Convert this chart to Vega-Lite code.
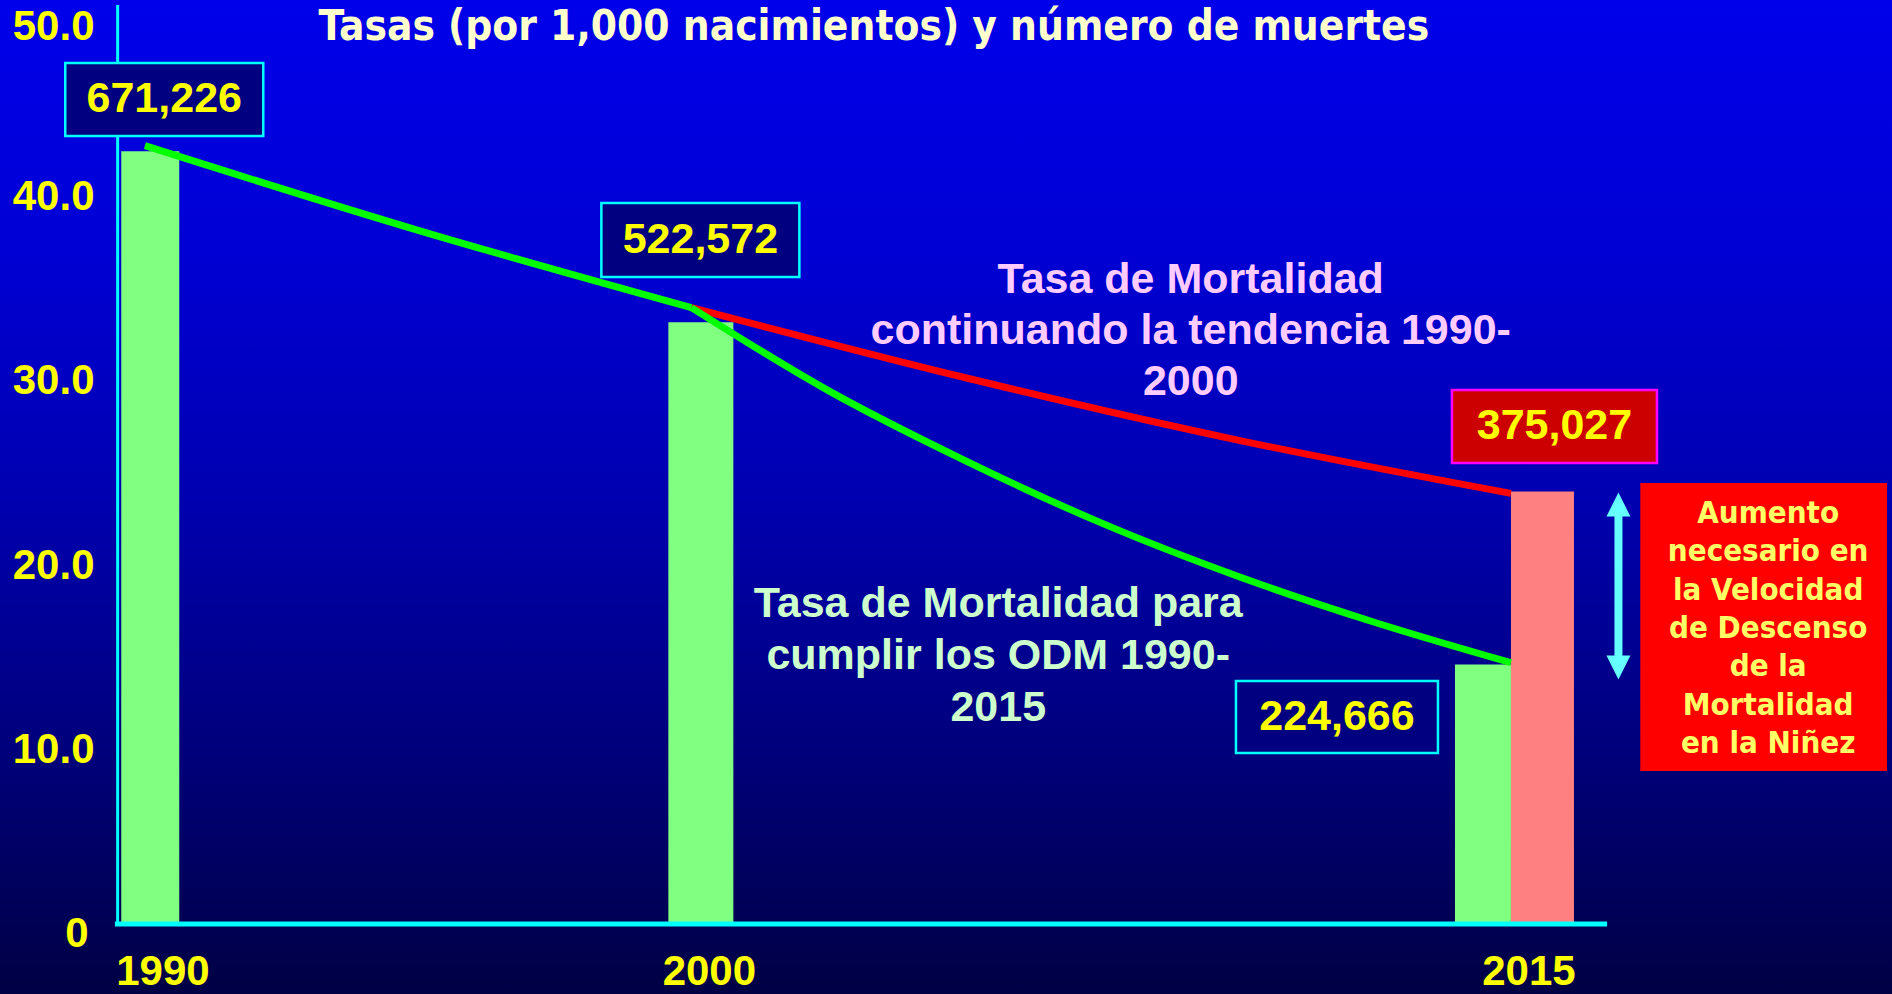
{
  "$schema": "https://vega.github.io/schema/vega-lite/v6.json",
  "width": 1892,
  "height": 994,
  "autosize": {"type": "none"},
  "padding": 0,
  "background": "#000040",
  "config": {"view": {"stroke": null}, "axis": {"grid": false, "domain": false, "ticks": false, "tickSize": 0}},
  "datasets": {
    "bars": [
      {"year": 1990, "rate": 42.0, "serie": "ODM", "deaths": 671226},
      {"year": 2000, "rate": 32.7, "serie": "ODM", "deaths": 522572},
      {"year": 2015, "rate": 14.1, "serie": "ODM", "deaths": 224666},
      {"year": 2015, "rate": 23.5, "serie": "Tendencia", "deaths": 375027}
    ],
    "lines": [
      {"year": 1990, "rate": 42.3, "serie": "ODM", "tramo": "1990-2000"},
      {"year": 1995, "rate": 37.7, "serie": "ODM", "tramo": "1990-2000"},
      {"year": 2000, "rate": 33.5, "serie": "ODM", "tramo": "1990-2000"},
      {"year": 2000, "rate": 33.5, "serie": "ODM", "tramo": "2000-2015"},
      {"year": 2002.5, "rate": 29.0, "serie": "ODM", "tramo": "2000-2015"},
      {"year": 2005, "rate": 25.2, "serie": "ODM", "tramo": "2000-2015"},
      {"year": 2007.5, "rate": 21.8, "serie": "ODM", "tramo": "2000-2015"},
      {"year": 2010, "rate": 18.9, "serie": "ODM", "tramo": "2000-2015"},
      {"year": 2012.5, "rate": 16.4, "serie": "ODM", "tramo": "2000-2015"},
      {"year": 2015, "rate": 14.2, "serie": "ODM", "tramo": "2000-2015"},
      {"year": 2000, "rate": 33.5, "serie": "Tendencia", "tramo": "2000-2015"},
      {"year": 2005, "rate": 29.7, "serie": "Tendencia", "tramo": "2000-2015"},
      {"year": 2010, "rate": 26.3, "serie": "Tendencia", "tramo": "2000-2015"},
      {"year": 2015, "rate": 23.4, "serie": "Tendencia", "tramo": "2000-2015"}
    ]
  },
  "layer": [
    {
      "data": {"values": [{"bg": 1}]},
      "mark": {"type": "rect", "fill": {"gradient": "linear", "x1": 0, "y1": 0, "x2": 0, "y2": 1, "stops": [
        {"offset": 0, "color": "#0000EA"},
        {"offset": 0.25, "color": "#0000D4"},
        {"offset": 0.5, "color": "#0000B0"},
        {"offset": 0.75, "color": "#00007C"},
        {"offset": 1, "color": "#000044"}
      ]}},
      "encoding": {}
    },
    {
      "data": {"name": "bars"},
      "transform": [{"filter": "datum.year == 1990"}],
      "mark": {"type": "bar", "color": "#80FF80", "width": 58, "xOffset": 5.3},
      "encoding": {
        "x": {"field": "year", "type": "quantitative", "scale": {"domain": [1987.4386, 2021.882], "nice": false, "zero": false},
          "axis": {"values": [1990, 2000, 2015], "orient": "bottom", "zindex": 2, "domain": false, "ticks": false, "tickSize": 0, "grid": false, "title": null,
            "format": "d", "labelPadding": -10, "labelOffset": 17.5, "labelColor": "#FFFF00", "labelFont": "Liberation Sans Narrow, Arial Narrow, Liberation Sans",
            "labelFontSize": 42, "labelFontWeight": "bold", "labelBaseline": "alphabetic", "labelFlush": false, "labelOverlap": false}},
        "y": {"field": "rate", "type": "quantitative", "scale": {"domain": [-3.804, 50.217], "nice": false, "zero": false},
          "axis": {"values": [0, 10, 20, 30, 40, 50], "orient": "left", "zindex": 2, "domain": false, "ticks": false, "tickSize": 0, "grid": false, "title": null,
            "labelExpr": "datum.value == 0 ? '0' : format(datum.value, '.1f')",
            "labelPadding": {"condition": {"test": "datum.value == 0", "value": -88}, "value": -94},
            "labelOffset": {"condition": {"test": "datum.value == 50", "value": 23}, "value": 9},
            "labelColor": "#FFFF00", "labelFont": "Liberation Sans", "labelFontSize": 42, "labelFontWeight": "bold", "labelAlign": "right", "labelBaseline": "middle", "labelFlush": false, "labelOverlap": false}},
        "y2": {"datum": 0}
      }
    },
    {
      "data": {"name": "bars"},
      "transform": [{"filter": "datum.year == 2000"}],
      "mark": {"type": "bar", "color": "#80FF80", "width": 65, "xOffset": 9.5},
      "encoding": {
        "x": {"field": "year", "type": "quantitative"},
        "y": {"field": "rate", "type": "quantitative"},
        "y2": {"datum": 0}
      }
    },
    {
      "data": {"name": "bars"},
      "transform": [{"filter": "datum.year == 2015 && datum.serie == 'ODM'"}],
      "mark": {"type": "bar", "color": "#80FF80", "width": 56, "xOffset": -28},
      "encoding": {
        "x": {"field": "year", "type": "quantitative"},
        "y": {"field": "rate", "type": "quantitative"},
        "y2": {"datum": 0}
      }
    },
    {
      "data": {"name": "bars"},
      "transform": [{"filter": "datum.serie == 'Tendencia'"}],
      "mark": {"type": "bar", "color": "#FF8080", "width": 63, "xOffset": 31.5},
      "encoding": {
        "x": {"field": "year", "type": "quantitative"},
        "y": {"field": "rate", "type": "quantitative"},
        "y2": {"datum": 0}
      }
    },
    {
      "data": {"name": "lines"},
      "transform": [{"filter": "datum.serie == 'Tendencia'"}],
      "mark": {"type": "line", "color": "#FF0000", "strokeWidth": 7, "strokeJoin": "round", "interpolate": "monotone"},
      "encoding": {
        "x": {"field": "year", "type": "quantitative"},
        "y": {"field": "rate", "type": "quantitative"}
      }
    },
    {
      "data": {"name": "lines"},
      "transform": [{"filter": "datum.serie == 'ODM'"}],
      "mark": {"type": "line", "color": "#00FF00", "strokeWidth": 7, "strokeJoin": "round", "interpolate": "monotone"},
      "encoding": {
        "x": {"field": "year", "type": "quantitative"},
        "y": {"field": "rate", "type": "quantitative"},
        "detail": {"field": "tramo"}
      }
    },
    {
      "data": {"values": [{"a": 1}]},
      "mark": {"type": "rule", "color": "#00FFFF", "strokeWidth": 3},
      "encoding": {
        "x": {"datum": 1989.5, "type": "quantitative"},
        "y": {"datum": 0, "type": "quantitative"},
        "y2": {"datum": 49.95}
      }
    },
    {
      "data": {"values": [{"a": 1}]},
      "mark": {"type": "rule", "color": "#00FFFF", "strokeWidth": 5},
      "encoding": {
        "x": {"datum": 1989.45, "type": "quantitative"},
        "x2": {"datum": 2016.76},
        "y": {"datum": 0, "type": "quantitative"}
      }
    },
    {
      "data": {"values": [{"a": 1}]},
      "mark": {"type": "rule", "color": "#66FFFF", "strokeWidth": 8},
      "encoding": {
        "x": {"datum": 2016.967, "type": "quantitative"},
        "y": {"datum": 22.8, "type": "quantitative"},
        "y2": {"datum": 13.94}
      }
    },
    {
      "data": {"values": [{"a": 1}]},
      "mark": {"type": "point", "shape": "M-1,1L0,-1L1,1Z", "size": 576, "filled": true, "fill": "#66FFFF", "opacity": 1, "strokeWidth": 0},
      "encoding": {
        "x": {"datum": 2016.967, "type": "quantitative"},
        "y": {"datum": 22.8, "type": "quantitative"}
      }
    },
    {
      "data": {"values": [{"a": 1}]},
      "mark": {"type": "point", "shape": "M-1,-1L0,1L1,-1Z", "size": 576, "filled": true, "fill": "#66FFFF", "opacity": 1, "strokeWidth": 0},
      "encoding": {
        "x": {"datum": 2016.967, "type": "quantitative"},
        "y": {"datum": 13.94, "type": "quantitative"}
      }
    },
    {
      "data": {"values": [{"a": 1}]},
      "mark": {"type": "rect", "fill": "#FF0000"},
      "encoding": {
        "x": {"datum": 2017.367, "type": "quantitative"},
        "x2": {"datum": 2021.882},
        "y": {"datum": 23.97, "type": "quantitative"},
        "y2": {"datum": 8.315}
      }
    },
    {
      "data": {"values": [{"a": 1}]},
      "mark": {"type": "text", "color": "#FFFF66", "font": "DejaVu Sans Condensed, DejaVu Sans", "fontSize": 31, "fontWeight": "bold", "lineHeight": 38.3, "align": "center", "baseline": "middle"},
      "encoding": {
        "x": {"datum": 2019.707, "type": "quantitative"},
        "y": {"datum": 22.28, "type": "quantitative"},
        "text": {"value": ["Aumento", "necesario en", "la Velocidad", "de Descenso", "de la", "Mortalidad", "en la Niñez"]}
      }
    },
    {
      "data": {"name": "bars"},
      "transform": [{"filter": "datum.year == 1990"}],
      "mark": {"type": "point", "shape": "M-1,-0.3687L1,-0.3687L1,0.3687L-1,0.3687Z", "size": 39204, "filled": true, "fill": "#000080", "stroke": "#00FFFF", "strokeWidth": 2.5, "opacity": 1, "xOffset": 19.3, "yOffset": -51.7},
      "encoding": {
        "x": {"field": "year", "type": "quantitative"},
        "y": {"field": "rate", "type": "quantitative"}
      }
    },
    {
      "data": {"name": "bars"},
      "transform": [{"filter": "datum.year == 2000"}],
      "mark": {"type": "point", "shape": "M-1,-0.3737L1,-0.3737L1,0.3737L-1,0.3737Z", "size": 39204, "filled": true, "fill": "#000080", "stroke": "#00FFFF", "strokeWidth": 2.5, "opacity": 1, "xOffset": 9, "yOffset": -82.3},
      "encoding": {
        "x": {"field": "year", "type": "quantitative"},
        "y": {"field": "rate", "type": "quantitative"}
      }
    },
    {
      "data": {"name": "bars"},
      "transform": [{"filter": "datum.year == 2015 && datum.serie == 'ODM'"}],
      "mark": {"type": "point", "shape": "M-1,-0.3564L1,-0.3564L1,0.3564L-1,0.3564Z", "size": 40804, "filled": true, "fill": "#000080", "stroke": "#00FFFF", "strokeWidth": 2.5, "opacity": 1, "xOffset": -174, "yOffset": 52.4},
      "encoding": {
        "x": {"field": "year", "type": "quantitative"},
        "y": {"field": "rate", "type": "quantitative"}
      }
    },
    {
      "data": {"name": "bars"},
      "transform": [{"filter": "datum.serie == 'Tendencia'"}],
      "mark": {"type": "point", "shape": "M-1,-0.3561L1,-0.3561L1,0.3561L-1,0.3561Z", "size": 42025, "filled": true, "fill": "#CC0000", "stroke": "#FF00FF", "strokeWidth": 2.5, "opacity": 1, "xOffset": 43.5, "yOffset": -65.1},
      "encoding": {
        "x": {"field": "year", "type": "quantitative"},
        "y": {"field": "rate", "type": "quantitative"}
      }
    },
    {
      "data": {"name": "bars"},
      "transform": [{"filter": "datum.year == 1990"}],
      "mark": {"type": "text", "color": "#FFFF00", "font": "Liberation Sans", "fontSize": 43, "fontWeight": "bold", "align": "center", "baseline": "middle", "xOffset": 19.3, "yOffset": -51.7},
      "encoding": {
        "x": {"field": "year", "type": "quantitative"},
        "y": {"field": "rate", "type": "quantitative"},
        "text": {"field": "deaths", "type": "quantitative", "format": ","}
      }
    },
    {
      "data": {"name": "bars"},
      "transform": [{"filter": "datum.year == 2000"}],
      "mark": {"type": "text", "color": "#FFFF00", "font": "Liberation Sans", "fontSize": 43, "fontWeight": "bold", "align": "center", "baseline": "middle", "xOffset": 9, "yOffset": -82.3},
      "encoding": {
        "x": {"field": "year", "type": "quantitative"},
        "y": {"field": "rate", "type": "quantitative"},
        "text": {"field": "deaths", "type": "quantitative", "format": ","}
      }
    },
    {
      "data": {"name": "bars"},
      "transform": [{"filter": "datum.year == 2015 && datum.serie == 'ODM'"}],
      "mark": {"type": "text", "color": "#FFFF00", "font": "Liberation Sans", "fontSize": 43, "fontWeight": "bold", "align": "center", "baseline": "middle", "xOffset": -174, "yOffset": 52.4},
      "encoding": {
        "x": {"field": "year", "type": "quantitative"},
        "y": {"field": "rate", "type": "quantitative"},
        "text": {"field": "deaths", "type": "quantitative", "format": ","}
      }
    },
    {
      "data": {"name": "bars"},
      "transform": [{"filter": "datum.serie == 'Tendencia'"}],
      "mark": {"type": "text", "color": "#FFFF00", "font": "Liberation Sans", "fontSize": 43, "fontWeight": "bold", "align": "center", "baseline": "middle", "xOffset": 43.5, "yOffset": -65.1},
      "encoding": {
        "x": {"field": "year", "type": "quantitative"},
        "y": {"field": "rate", "type": "quantitative"},
        "text": {"field": "deaths", "type": "quantitative", "format": ","}
      }
    },
    {
      "data": {"values": [{"a": 1}]},
      "mark": {"type": "text", "color": "#FFCCFF", "font": "Liberation Sans", "fontSize": 43, "fontWeight": "bold", "lineHeight": 51, "align": "center", "baseline": "middle"},
      "encoding": {
        "x": {"datum": 2009.139, "type": "quantitative"},
        "y": {"datum": 35.0, "type": "quantitative"},
        "text": {"value": ["Tasa de Mortalidad", "continuando la tendencia 1990-", "2000"]}
      }
    },
    {
      "data": {"values": [{"a": 1}]},
      "mark": {"type": "text", "color": "#CCFFCC", "font": "Liberation Sans", "fontSize": 43, "fontWeight": "bold", "lineHeight": 52, "align": "center", "baseline": "middle"},
      "encoding": {
        "x": {"datum": 2005.616, "type": "quantitative"},
        "y": {"datum": 17.39, "type": "quantitative"},
        "text": {"value": ["Tasa de Mortalidad para", "cumplir los ODM 1990-", "2015"]}
      }
    },
    {
      "data": {"values": [{"a": 1}]},
      "mark": {"type": "text", "color": "#FFFFCC", "font": "DejaVu Sans Condensed, DejaVu Sans", "fontSize": 42, "fontWeight": "bold", "align": "center", "baseline": "middle"},
      "encoding": {
        "x": {"datum": 2003.341, "type": "quantitative"},
        "y": {"datum": 48.75, "type": "quantitative"},
        "text": {"value": "Tasas (por 1,000 nacimientos) y número de muertes"}
      }
    }
  ]
}
